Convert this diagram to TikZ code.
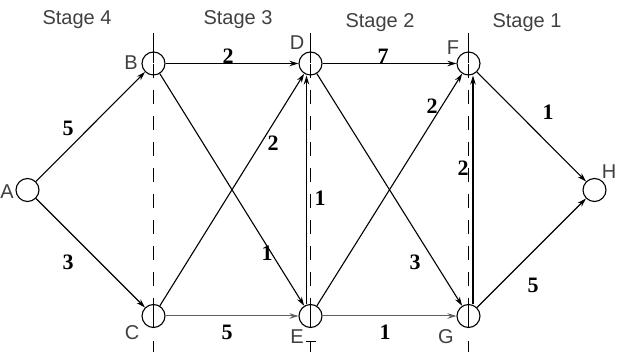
\documentclass[tikz,border=0pt]{standalone}
\usepackage{fontspec}
\setmainfont{Liberation Serif}
\newfontfamily\arialf{Liberation Sans}
\usetikzlibrary{arrows.meta}
\definecolor{lettergray}{HTML}{404040}
\definecolor{edgegray}{HTML}{606060}
\begin{document}
\begin{tikzpicture}[x=1pt,y=-1pt,
  vert/.style={circle,draw,line width=1.1pt,minimum size=23pt,inner sep=0pt},
  edge/.style={line width=1.1pt,-{Stealth[length=9pt,width=5.5pt]}},
  lightedge/.style={edge,draw=edgegray,line width=1pt},
  wlabel/.style={font=\fontsize{22}{24}\selectfont\bfseries,inner sep=0pt},
  vlabel/.style={font=\arialf\fontsize{20}{22}\selectfont,text=lettergray,inner sep=0pt},
  stagelabel/.style={font=\arialf\fontsize{20}{22}\selectfont,text=lettergray,inner sep=0pt},
  sep/.style={line width=0.8pt,dash pattern=on 14pt off 12pt},
  sepsolid/.style={line width=0.8pt}]
\useasboundingbox (0,0) rectangle (621,352);
% stage labels
\node[stagelabel] (s4) at (77,20) {Stage 4};
\node[stagelabel] (s3) at (238,20) {Stage 3};
\node[stagelabel] (s2) at (380,23) {Stage 2};
\node[stagelabel] (s1) at (527,23) {Stage 1};
% separators
\coordinate (t1) at (153.5,33);
\coordinate (t2) at (310.5,33);
\coordinate (t3) at (468.5,33);
\coordinate (b1) at (153.5,352);
\coordinate (b2) at (310.5,352);
\coordinate (b3) at (468.5,352);
\draw[sepsolid] (t1) -- (153.5,63.5);
\draw[sepsolid] (t2) -- (310.5,63.5);
\draw[sepsolid] (t3) -- (468.5,63.5);
\draw[sep] (153.5,64) -- (153.5,304);
\draw[sep] (310.5,64) -- (310.5,304);
\draw[sep] (468.5,64) -- (468.5,304);
\draw[sepsolid] (153.5,304) -- (153.5,328);
\draw[sepsolid] (310.5,304) -- (310.5,328);
\draw[sepsolid] (468.5,304) -- (468.5,328);
\draw[sepsolid] (153.5,341) -- (b1);
\draw[sepsolid] (310.5,341) -- (b2);
\draw[sepsolid] (305.5,341) -- (315.5,341);
\draw[sepsolid] (468.5,341) -- (b3);
% vertices
\node[vert] (A) at (27.5,190) {};
\node[vert] (B) at (153.5,63.5) {};
\node[vert] (C) at (153.5,316) {};
\node[vert] (D) at (310.5,63.5) {};
\node[vert] (E) at (310.5,316) {};
\node[vert] (F) at (468.5,63.5) {};
\node[vert] (G) at (468.5,316) {};
\node[vert] (H) at (594.5,190) {};
% vertex letters
\node[vlabel] (lA) at (7,192) {A};
\node[vlabel] (lB) at (131,63) {B};
\node[vlabel] (lC) at (132,333) {C};
\node[vlabel] (lD) at (297,43) {D};
\node[vlabel] (lE) at (297,337) {E};
\node[vlabel] (lF) at (453,48) {F};
\node[vlabel] (lG) at (446,337) {G};
\node[vlabel] (lH) at (609,172) {H};
% edges
\draw[edge] (A) -- (B);
\draw[edge] (A) -- (C);
\draw[edge] (B) -- (D);
\draw[edge] (B) -- (E);
\draw[edge] (C) -- (D);
\draw[lightedge] (C) -- (E);
\draw[edge] ([xshift=-4pt]E.north) -- ([xshift=-4pt]D.south);
\draw[edge] (D) -- (F);
\draw[edge] (D) -- (G);
\draw[edge] (E) -- (F);
\draw[lightedge] (E) -- (G);
\draw[edge] ([xshift=4.5pt]G.north) -- ([xshift=4.5pt]F.south);
\draw[edge] (F) -- (H);
\draw[edge] (G) -- (H);
% weights
\node[wlabel] (wAB) at (68,128) {5};
\node[wlabel] (wAC) at (68,262) {3};
\node[wlabel] (wBD) at (228,56) {2};
\node[wlabel] (wBE) at (267,253) {1};
\node[wlabel] (wCD) at (273,143) {2};
\node[wlabel] (wCE) at (227,332) {5};
\node[wlabel] (wED) at (320,198) {1};
\node[wlabel] (wDF) at (383,56) {7};
\node[wlabel] (wDG) at (415,262) {3};
\node[wlabel] (wEF) at (432,106) {2};
\node[wlabel] (wEG) at (385,332) {1};
\node[wlabel] (wGF) at (463,168) {2};
\node[wlabel] (wFH) at (548,112) {1};
\node[wlabel] (wGH) at (533,285) {5};
\end{tikzpicture}
\end{document}
